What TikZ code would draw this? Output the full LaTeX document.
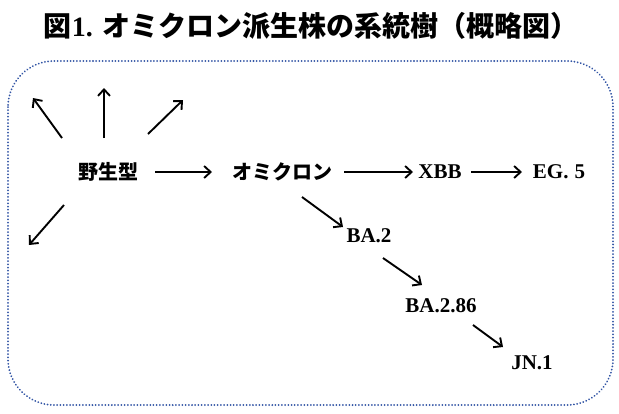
\documentclass[tikz,border=0pt]{standalone}
\usepackage{fontspec}
\setmainfont{Liberation Serif}
\newfontfamily\cjk{Noto Sans CJK JP}
\usetikzlibrary{arrows.meta}
\definecolor{frameblue}{RGB}{50,85,165}
\tikzset{
  arr/.style={line width=1.9pt,-{Straight Barb[length=6.5pt,width=12pt,line width=1.9pt]}},
  jlab/.style={font=\cjk\bfseries\fontsize{20}{22}\selectfont,inner sep=0pt},
  llab/.style={font=\bfseries\fontsize{21}{24}\selectfont,inner sep=0pt},
  frame/.style={draw=frameblue,line width=2pt,dash pattern=on 0.01pt off 3.2pt,line cap=round,rounded corners=46pt}
}
\begin{document}
\begin{tikzpicture}[x=1pt,y=-1pt]
\useasboundingbox (0,0) rectangle (619,413);
\node[inner sep=0pt,font=\bfseries\fontsize{28}{30}\selectfont] (title) at (311,26) {{\cjk 図}1. {\cjk オミクロン派生株の系統樹（概略図）}};
\draw[frame] (8,61) rectangle (613,405);
\node[jlab] (wt) at (108,172) {野生型};
\node[jlab] (omi) at (282,172) {オミクロン};
\node[llab] (xbb) at (440,172) {XBB};
\node[llab] (eg5) at (559,172) {EG.\hspace{6pt}5};
\node[llab] (ba2) at (369,236) {BA.2};
\node[llab] (ba286) at (441,306) {BA.2.86};
\node[llab] (jn1) at (532,363) {JN.1};
\coordinate (o1) at (33,98);
\coordinate (o2) at (104,88);
\coordinate (o3) at (183,100);
\coordinate (o4) at (29,245);
\draw[arr] ([shift={(-46,-34)}]wt.center) -- (o1);
\draw[arr] ([shift={(-4,-34)}]wt.center) -- (o2);
\draw[arr] ([shift={(40,-38)}]wt.center) -- (o3);
\draw[arr] ([shift={(-44,33)}]wt.center) -- (o4);
\draw[arr] ([shift={(47,0)}]wt.center) -- ([shift={(-70,0)}]omi.center);
\draw[arr] ([shift={(62,0)}]omi.center) -- ([shift={(-27,0)}]xbb.center);
\draw[arr] ([shift={(31,0)}]xbb.center) -- ([shift={(-37,0)}]eg5.center);
\draw[arr] ([shift={(20,25)}]omi.center) -- ([shift={(-26,-9)}]ba2.center);
\draw[arr] ([shift={(14,22)}]ba2.center) -- ([shift={(-19,-21)}]ba286.center);
\draw[arr] ([shift={(32,19)}]ba286.center) -- ([shift={(-29,-16)}]jn1.center);
\end{tikzpicture}
\end{document}
